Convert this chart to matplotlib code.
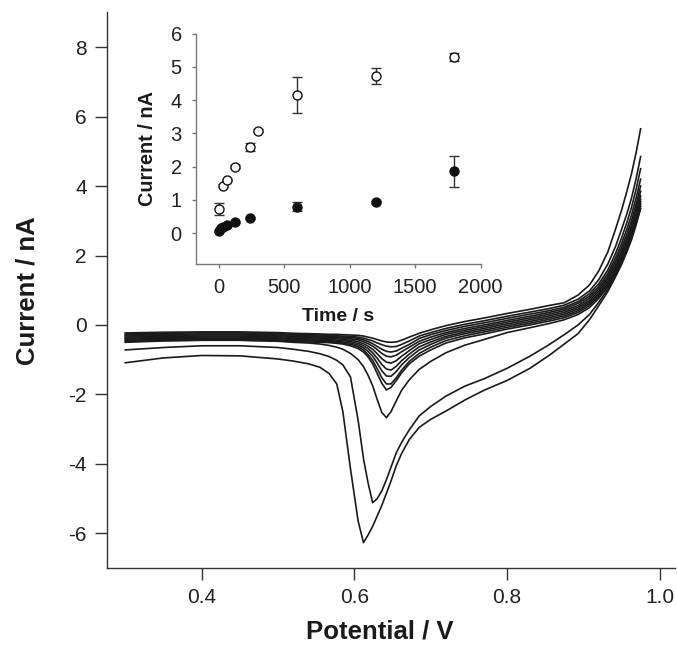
#Voltammograms with deposition time inset
#main plot: stripping curves, inset: peak current against time

import matplotlib
matplotlib.use("Agg")
import matplotlib.pyplot as plt

plt.rcParams['font.family'] = ['Liberation Sans', 'DejaVu Sans']
plt.rcParams['axes.unicode_minus'] = False   #plain hyphen like the original

#potential values (V) the curves were read at
potential = [0.300, 0.350, 0.400, 0.450, 0.500, 0.520, 0.540, 0.555, 0.567, 0.577,
             0.585, 0.595, 0.605, 0.612, 0.618, 0.624, 0.630, 0.636, 0.642, 0.648,
             0.655, 0.662, 0.672,
             0.685, 0.700, 0.720, 0.745, 0.770,
             0.800, 0.830, 0.855, 0.875, 0.893, 0.908, 0.920, 0.932, 0.942, 0.950,
             0.957, 0.963, 0.969, 0.975]

#current (nA), one list per scan
curve_a = [-1.09, -0.95, -0.88, -0.89, -0.98, -1.04, -1.12, -1.22, -1.40, -1.70,
           -2.50, -4.15, -5.65, -6.27, -6.05, -5.80, -5.50, -5.20, -4.85, -4.50,
           -4.05, -3.70, -3.30,
           -2.95, -2.72, -2.48, -2.16, -1.88,
           -1.60, -1.25, -0.88, -0.55, -0.25, 0.15, 0.55, 0.96, 1.38, 1.74,
           2.10, 2.45, 2.87, 3.35]
curve_b = [-0.72, -0.65, -0.60, -0.60, -0.65, -0.70, -0.76, -0.83, -0.91, -1.02,
           -1.15, -1.50, -2.75, -3.85, -4.55, -5.12, -5.00, -4.78, -4.46, -4.10,
           -3.68, -3.38, -3.02,
           -2.62, -2.35, -2.05, -1.76, -1.55,
           -1.25, -0.90, -0.57, -0.28, 0.00, 0.30, 0.65, 1.03, 1.44, 1.80,
           2.16, 2.51, 2.93, 3.42]
curve_c = [-0.50, -0.46, -0.44, -0.44, -0.47, -0.50, -0.52, -0.55, -0.59, -0.64,
           -0.70, -0.82, -1.00, -1.20, -1.45, -1.75, -2.15, -2.52, -2.67, -2.50,
           -2.18, -1.88, -1.58,
           -1.28, -1.05, -0.80, -0.58, -0.42,
           -0.22, -0.08, 0.04, 0.15, 0.30, 0.50, 0.76, 1.10, 1.49, 1.86,
           2.22, 2.57, 2.99, 3.48]
curve_d = [-0.47, -0.45, -0.44, -0.44, -0.46, -0.48, -0.49, -0.50, -0.51, -0.53,
           -0.55, -0.60, -0.68, -0.78, -0.92, -1.12, -1.40, -1.68, -1.87, -1.80,
           -1.60, -1.38, -1.12,
           -0.90, -0.72, -0.52, -0.37, -0.26,
           -0.12, 0.00, 0.11, 0.21, 0.36, 0.56, 0.81, 1.15, 1.54, 1.91,
           2.28, 2.63, 3.06, 3.55]
curve_e = [-0.44, -0.42, -0.41, -0.41, -0.43, -0.45, -0.46, -0.47, -0.48, -0.50,
           -0.52, -0.56, -0.63, -0.72, -0.85, -1.02, -1.26, -1.52, -1.70, -1.70,
           -1.52, -1.30, -1.05,
           -0.82, -0.64, -0.45, -0.31, -0.20,
           -0.07, 0.05, 0.16, 0.26, 0.41, 0.61, 0.86, 1.20, 1.60, 1.97,
           2.34, 2.70, 3.13, 3.62]
curve_f = [-0.41, -0.39, -0.38, -0.38, -0.40, -0.42, -0.43, -0.44, -0.45, -0.47,
           -0.49, -0.52, -0.58, -0.66, -0.76, -0.90, -1.10, -1.32, -1.47, -1.48,
           -1.34, -1.15, -0.94,
           -0.72, -0.56, -0.38, -0.25, -0.15,
           -0.02, 0.10, 0.21, 0.31, 0.46, 0.66, 0.91, 1.26, 1.66, 2.04,
           2.42, 2.78, 3.22, 3.72]
curve_g = [-0.38, -0.36, -0.35, -0.35, -0.37, -0.39, -0.40, -0.41, -0.42, -0.44,
           -0.45, -0.48, -0.53, -0.60, -0.68, -0.80, -0.96, -1.14, -1.27, -1.30,
           -1.19, -1.03, -0.84,
           -0.63, -0.49, -0.33, -0.20, -0.10,
           0.03, 0.15, 0.26, 0.36, 0.51, 0.71, 0.97, 1.33, 1.74, 2.12,
           2.51, 2.88, 3.33, 3.85]
curve_h = [-0.35, -0.33, -0.32, -0.32, -0.34, -0.36, -0.37, -0.38, -0.39, -0.40,
           -0.42, -0.44, -0.48, -0.54, -0.61, -0.70, -0.83, -0.97, -1.07, -1.10,
           -1.03, -0.90, -0.74,
           -0.54, -0.42, -0.27, -0.15, -0.05,
           0.08, 0.20, 0.31, 0.41, 0.56, 0.77, 1.03, 1.40, 1.82, 2.22,
           2.62, 3.00, 3.47, 4.00]
curve_i = [-0.32, -0.30, -0.29, -0.29, -0.31, -0.33, -0.34, -0.35, -0.36, -0.37,
           -0.38, -0.40, -0.43, -0.48, -0.54, -0.61, -0.71, -0.82, -0.90, -0.92,
           -0.87, -0.77, -0.64,
           -0.47, -0.35, -0.22, -0.10, 0.00,
           0.13, 0.25, 0.36, 0.46, 0.62, 0.83, 1.10, 1.48, 1.92, 2.34,
           2.76, 3.16, 3.65, 4.20]
curve_j = [-0.29, -0.27, -0.26, -0.26, -0.28, -0.30, -0.31, -0.32, -0.33, -0.34,
           -0.35, -0.36, -0.39, -0.43, -0.48, -0.54, -0.62, -0.70, -0.76, -0.78,
           -0.75, -0.67, -0.56,
           -0.39, -0.28, -0.16, -0.04, 0.06,
           0.19, 0.31, 0.41, 0.51, 0.67, 0.90, 1.18, 1.58, 2.05, 2.50,
           2.95, 3.38, 3.90, 4.50]
curve_k = [-0.26, -0.24, -0.23, -0.23, -0.25, -0.27, -0.28, -0.29, -0.30, -0.31,
           -0.32, -0.33, -0.35, -0.38, -0.42, -0.46, -0.52, -0.57, -0.61, -0.63,
           -0.62, -0.56, -0.46,
           -0.32, -0.22, -0.10, 0.02, 0.12,
           0.25, 0.37, 0.47, 0.57, 0.74, 0.98, 1.30, 1.75, 2.25, 2.75,
           3.20, 3.65, 4.20, 4.85]
curve_l = [-0.23, -0.21, -0.20, -0.20, -0.22, -0.24, -0.25, -0.26, -0.27, -0.27,
           -0.28, -0.29, -0.30, -0.32, -0.35, -0.38, -0.42, -0.46, -0.49, -0.50,
           -0.49, -0.44, -0.35,
           -0.24, -0.14, -0.02, 0.10, 0.20,
           0.33, 0.45, 0.56, 0.64, 0.86, 1.15, 1.55, 2.10, 2.75, 3.30,
           3.85, 4.35, 4.95, 5.65]

#inset data, open circles
time_open = [0, 30, 60, 120, 240, 300, 600, 1200, 1800]
current_open = [0.73, 1.43, 1.60, 2.00, 2.60, 3.08, 4.14, 4.72, 5.30]
err_open = [0.17, 0.04, 0.04, 0.04, 0.12, 0.04, 0.54, 0.24, 0.12]

#inset data, filled circles
time_filled = [0, 15, 30, 60, 120, 240, 600, 1200, 1800]
current_filled = [0.08, 0.15, 0.20, 0.26, 0.34, 0.46, 0.80, 0.95, 1.86]
err_filled = [0.03, 0.03, 0.03, 0.03, 0.03, 0.03, 0.13, 0.03, 0.47]

xticks_main = [0.4, 0.6, 0.8, 1.0]
yticks_main = [-6, -4, -2, 0, 2, 4, 6, 8]
xticks_inset = [0, 500, 1000, 1500, 2000]
yticks_inset = [0, 1, 2, 3, 4, 5, 6]


def main():
    fig = plt.figure(figsize=(6.77, 6.57), dpi=100)
    ax = fig.add_axes([0.158, 0.1355, 0.839, 0.8455])
    mainPlot(ax)
    axin = fig.add_axes([0.289, 0.598, 0.421, 0.351])
    insetPlot(axin)
    fig.savefig("out.png", dpi=100)


def mainPlot(ax):
    curves = [curve_a, curve_b, curve_c, curve_d, curve_e, curve_f,
              curve_g, curve_h, curve_i, curve_j, curve_k, curve_l]
    for c in curves:
        ax.plot(potential, c, color="#1a1a1a", lw=1.2, solid_joinstyle="round")

    ax.set_xlim(0.276, 1.02)
    ax.set_ylim(-7, 9)
    ax.set_xticks(xticks_main)
    ax.set_xticklabels([f"{t:.1f}" for t in xticks_main])
    ax.set_yticks(yticks_main)
    for s in ["top", "right"]:
        ax.spines[s].set_visible(False)
    for s in ["left", "bottom"]:
        ax.spines[s].set_color("#333333")
        ax.spines[s].set_linewidth(1.0)
    ax.tick_params(direction="out", length=8.5, width=1, labelsize=15,
                   pad=6, color="#333333", labelcolor="#222222")
    ax.set_xlabel("Potential / V", fontsize=18.5, fontweight="bold",
                  color="#1a1a1a")
    ax.xaxis.set_label_coords(0.48, -0.092)
    ax.set_ylabel("Current / nA", fontsize=18.5, fontweight="bold",
                  labelpad=21, color="#1a1a1a")


def insetPlot(axin):
    axin.set_facecolor("none")
    axin.errorbar(time_open, current_open, yerr=err_open, fmt="o", ms=6.5,
                  mfc="white", mec="#111111", mew=1, ecolor="#333333",
                  elinewidth=1, capsize=3.5, capthick=1, zorder=3)
    axin.errorbar(time_filled, current_filled, yerr=err_filled, fmt="o", ms=6.5,
                  mfc="#111111", mec="#111111", mew=1, ecolor="#333333",
                  elinewidth=1, capsize=3.5, capthick=1, zorder=3)

    axin.set_xlim(-178, 2000)
    axin.set_ylim(-0.93, 6.0)
    axin.set_xticks(xticks_inset)
    axin.set_yticks(yticks_inset)
    for s in ["top", "right"]:
        axin.spines[s].set_visible(False)
    for s in ["left", "bottom"]:
        axin.spines[s].set_color("#777777")
        axin.spines[s].set_linewidth(1.0)
    axin.tick_params(direction="out", length=3, width=1, labelsize=14.5,
                     pad=7, color="#777777", labelcolor="#222222")
    axin.set_xlabel("Time / s", fontsize=14, fontweight="bold",
                    labelpad=8, color="#1a1a1a")
    axin.set_ylabel("Current / nA", fontsize=14.3, fontweight="bold",
                    labelpad=10, color="#1a1a1a")


if __name__ == "__main__":
    main()
